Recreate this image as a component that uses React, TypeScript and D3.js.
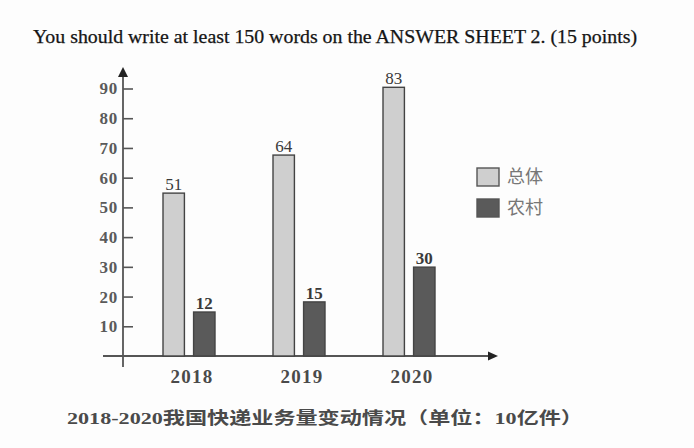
import * as d3 from "d3";
import React, { useEffect, useRef } from "react";

const YEARS = ["2018", "2019", "2020"];
const SERIES = ["总体", "农村"];
// printed labels on the bars
const totalLabels = [51, 64, 83];
const ruralLabels = [12, 15, 30];
// bar heights as drawn against the axis (the original art doesn't match its labels)
const totalHeights = [54.8, 67.6, 90.4];
const ruralHeights = [14.8, 18.2, 29.9];
const Y_TICKS = [10, 20, 30, 40, 50, 60, 70, 80, 90];

const TITLE = "You should write at least 150 words on the ANSWER SHEET 2. (15 points)";
const CAPTION = "2018-2020我国快递业务量变动情况（单位：10亿件）";

const W = 694;
const H = 448;
const SERIF = "'Liberation Serif', 'Times New Roman', serif";
const CJK = "'Liberation Serif', 'Noto Sans CJK SC', serif";
const COLORS = ["#cfcfcf", "#5a5a5a"];

export default function App() {
  const svgRef = useRef<SVGSVGElement | null>(null);

  useEffect(() => {
    const svg = d3.select(svgRef.current);
    svg.selectAll("*").remove();

    svg.append("rect").attr("width", W).attr("height", H).attr("fill", "#fdfdfd");

    // heading
    svg.append("text")
      .attr("x", 33).attr("y", 43)
      .attr("font-family", SERIF).attr("font-size", 18)
      .attr("fill", "#151515").attr("stroke", "#151515").attr("stroke-width", 0.25)
      .attr("textLength", 604).attr("lengthAdjust", "spacingAndGlyphs")
      .text(TITLE);

    const axisX = 123;
    const y = d3.scaleLinear().domain([0, 90]).range([356, 88.5]);
    const x0 = d3.scaleBand<string>().domain(YEARS).range([134, 464]);
    const x1 = d3.scaleBand<string>().domain(SERIES).range([-26, 26]).paddingInner(0.3);

    const axisColor = "#555";

    // y axis
    const yAxis = svg.append("g")
      .attr("transform", `translate(${axisX},0)`)
      .call(d3.axisLeft(y).tickValues(Y_TICKS).tickSizeInner(-10).tickSizeOuter(0).tickPadding(5));
    yAxis.select(".domain").remove();
    yAxis.selectAll(".tick line").attr("stroke", axisColor).attr("stroke-width", 1.6);
    yAxis.selectAll(".tick text")
      .attr("font-family", SERIF).attr("font-size", 17).attr("font-weight", "bold")
      .attr("fill", "#5a5a5a").attr("letter-spacing", 0.8);

    svg.append("line")
      .attr("x1", axisX).attr("x2", axisX)
      .attr("y1", 367).attr("y2", 76)
      .attr("stroke", axisColor).attr("stroke-width", 1.8);
    svg.append("path")
      .attr("d", `M${axisX},67 L${axisX - 5},77 L${axisX + 5},77 Z`)
      .attr("fill", "#222");

    // x axis
    svg.append("line")
      .attr("x1", 103).attr("x2", 490)
      .attr("y1", y(0)).attr("y2", y(0))
      .attr("stroke", axisColor).attr("stroke-width", 1.8);
    svg.append("path")
      .attr("d", `M498,${y(0)} L488,${y(0) - 4.5} L488,${y(0) + 4.5} Z`)
      .attr("fill", "#222");

    const rows = YEARS.map((yr, i) => ({
      year: yr,
      bars: [
        { s: SERIES[0], h: totalHeights[i], label: totalLabels[i] },
        { s: SERIES[1], h: ruralHeights[i], label: ruralLabels[i] },
      ],
    }));

    const groups = svg.append("g").selectAll("g")
      .data(rows)
      .join("g")
      .attr("transform", d => `translate(${(x0(d.year) ?? 0) + x0.bandwidth() / 2},0)`);

    groups.selectAll("rect")
      .data(d => d.bars)
      .join("rect")
      .attr("x", d => x1(d.s) ?? 0)
      .attr("width", x1.bandwidth())
      .attr("y", d => y(d.h))
      .attr("height", d => y(0) - y(d.h))
      .attr("fill", (d, i) => COLORS[i])
      .attr("stroke", "#444")
      .attr("stroke-width", 1.4);

    groups.selectAll("text.val")
      .data(d => d.bars)
      .join("text")
      .attr("class", "val")
      .attr("x", d => (x1(d.s) ?? 0) + x1.bandwidth() / 2)
      .attr("y", d => y(d.h) - 3)
      .attr("text-anchor", "middle")
      .attr("font-family", SERIF).attr("font-size", 17)
      .attr("font-weight", (d, i) => (i === 0 ? "normal" : "bold"))
      .attr("fill", "#3a3a3a")
      .text(d => d.label);

    // year labels
    svg.append("g").selectAll("text")
      .data(YEARS)
      .join("text")
      .attr("x", d => (x0(d) ?? 0) + x0.bandwidth() / 2 + 3)
      .attr("y", 383)
      .attr("text-anchor", "middle")
      .attr("font-family", SERIF).attr("font-size", 19).attr("font-weight", "bold")
      .attr("fill", "#4a4a4a").attr("letter-spacing", 1.2)
      .text(d => d);

    // legend
    const legend = svg.append("g").attr("transform", "translate(477,168)");
    SERIES.forEach((s, i) => {
      const g = legend.append("g").attr("transform", `translate(0,${i * 31})`);
      g.append("rect")
        .attr("width", 22).attr("height", 18)
        .attr("fill", COLORS[i]).attr("stroke", "#555").attr("stroke-width", 1.4);
      g.append("text")
        .attr("x", 30).attr("y", 15)
        .attr("font-family", "'Noto Sans CJK SC', sans-serif").attr("font-size", 18)
        .attr("fill", "#777")
        .text(s);
    });

    // caption
    svg.append("text")
      .attr("x", 67).attr("y", 424)
      .attr("font-family", CJK).attr("font-size", 17).attr("font-weight", "bold")
      .attr("fill", "#4a4a4a")
      .attr("textLength", 516).attr("lengthAdjust", "spacingAndGlyphs")
      .text(CAPTION);
  }, []);

  return (
    <div style={{ position: "absolute", left: 0, top: 0 }}>
      <svg ref={svgRef} width={W} height={H} style={{ display: "block" }} />
    </div>
  );
}
